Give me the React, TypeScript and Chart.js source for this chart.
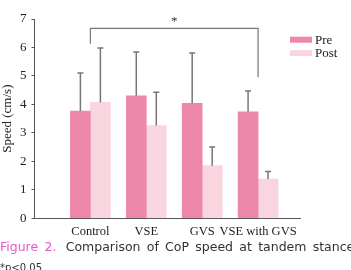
import { useEffect, useRef } from 'react';
import { Chart, registerables } from 'chart.js';

Chart.register(...registerables);

// Groups on the x axis
const groups = ['Control', 'VSE', 'GVS', 'VSE with GVS'];

// CoP speed (cm/s): mean and standard deviation per group
const preMeans = [3.77, 4.3, 4.04, 3.74];
const preSD = [1.33, 1.54, 1.77, 0.73];
const postMeans = [4.07, 3.26, 1.85, 1.38];
const postSD = [1.91, 1.17, 0.65, 0.26];

// Significance bracket between Control and VSE with GVS
const sigFrom = 0;
const sigTo = 3;
const sigLevel = 6.67;
const sigLegEnds = [6.13, 4.95];

const PRE_COLOR = '#EE88AA';
const POST_COLOR = '#F9D5E0';
const LINE_COLOR = '#777777';
const SERIF = '"Liberation Serif", "Times New Roman", serif';

const CANVAS_H = 245;
const PLOT_BOTTOM = 218.3;

const overlay = {
  id: 'errorBarsAndBracket',
  afterDatasetsDraw(chart: any) {
    const { ctx } = chart;
    const x = chart.scales.x;
    const y = chart.scales.y;
    const means = [preMeans, postMeans];
    const sds = [preSD, postSD];

    ctx.save();
    ctx.strokeStyle = LINE_COLOR;
    ctx.lineWidth = 1.5;
    chart.data.datasets.forEach((_ds: any, di: number) => {
      const meta = chart.getDatasetMeta(di);
      meta.data.forEach((bar: any, i: number) => {
        const base = y.getPixelForValue(means[di][i]);
        const top = y.getPixelForValue(means[di][i] + sds[di][i]);
        ctx.beginPath();
        ctx.moveTo(bar.x, base);
        ctx.lineTo(bar.x, top);
        ctx.moveTo(bar.x - 3, top);
        ctx.lineTo(bar.x + 3, top);
        ctx.stroke();
      });
    });

    // bracket
    const x1 = x.getPixelForValue(sigFrom + 1);
    const x2 = x.getPixelForValue(sigTo + 1);
    const yl = y.getPixelForValue(sigLevel);
    ctx.lineWidth = 1.2;
    ctx.beginPath();
    ctx.moveTo(x1, y.getPixelForValue(sigLegEnds[0]));
    ctx.lineTo(x1, yl);
    ctx.lineTo(x2, yl);
    ctx.lineTo(x2, y.getPixelForValue(sigLegEnds[1]));
    ctx.stroke();

    ctx.fillStyle = '#333';
    ctx.font = `13px ${SERIF}`;
    ctx.textAlign = 'center';
    ctx.textBaseline = 'alphabetic';
    ctx.fillText('*', (x1 + x2) / 2, yl - 3);

    // legend
    const items = [
      { label: 'Pre', color: PRE_COLOR },
      { label: 'Post', color: POST_COLOR },
    ];
    ctx.textAlign = 'left';
    items.forEach((it, k) => {
      const top = 36.7 + k * 13.4;
      ctx.fillStyle = it.color;
      ctx.fillRect(290, top, 22, 6);
      ctx.fillStyle = '#222';
      ctx.fillText(it.label, 315, top + 7);
    });
    ctx.restore();
  },
};

export default function App() {
  const canvasRef = useRef<HTMLCanvasElement | null>(null);

  useEffect(() => {
    document.body.style.margin = '0';
    const canvas = canvasRef.current;
    if (!canvas) return;
    const chart = new Chart(canvas, {
      type: 'bar',
      data: {
        datasets: [
          {
            label: 'Pre',
            data: preMeans.map((v, i) => ({ x: i + 1, y: v })),
            backgroundColor: PRE_COLOR,
            barThickness: 20,
          },
          {
            label: 'Post',
            data: postMeans.map((v, i) => ({ x: i + 1, y: v })),
            backgroundColor: POST_COLOR,
            barThickness: 20,
          },
        ],
      } as any,
      options: {
        animation: false,
        responsive: false,
        devicePixelRatio: 1,
        layout: { padding: { top: 19, right: 51, left: 0, bottom: 0 } },
        plugins: { legend: { display: false }, tooltip: { enabled: false } },
        scales: {
          x: {
            type: 'linear',
            min: 0,
            max: 4.75,
            offset: false,
            grid: { display: false, drawTicks: false, tickLength: 0 },
            border: { display: true, color: '#555', width: 1 },
            afterBuildTicks: (s: any) => {
              s.ticks = groups.map((_, i) => ({ value: i + 1 }));
            },
            ticks: {
              autoSkip: false,
              maxRotation: 0,
              padding: 6,
              color: '#222',
              font: { family: SERIF, size: 12.5 },
              callback: (v: any) => groups[Number(v) - 1] ?? '',
            },
            afterFit: (s: any) => {
              s.height = CANVAS_H - PLOT_BOTTOM;
            },
          },
          y: {
            min: 0,
            max: 7,
            ticks: {
              stepSize: 1,
              padding: 5,
              color: '#222',
              font: { family: SERIF, size: 13 },
            },
            grid: { drawOnChartArea: false, drawTicks: true, tickLength: 3, color: '#555' },
            border: { display: true, color: '#555', width: 1 },
            title: {
              display: true,
              text: 'Speed (cm/s)',
              color: '#222',
              padding: 0,
              font: { family: SERIF, size: 13 },
            },
            afterFit: (s: any) => {
              s.width = 34.5;
            },
          },
        },
      } as any,
      plugins: [overlay],
    });
    return () => chart.destroy();
  }, []);

  return (
    <div style={{ position: 'relative', width: 351, height: 270, overflow: 'hidden', background: '#fff' }}>
      <canvas ref={canvasRef} width={351} height={CANVAS_H} style={{ position: 'absolute', left: 0, top: 0 }} />
      <div
        style={{
          position: 'absolute',
          left: 0,
          top: 240,
          whiteSpace: 'nowrap',
          fontFamily: '"DejaVu Sans", sans-serif',
          fontSize: 12.5,
          lineHeight: '14px',
          color: '#333',
          wordSpacing: 2.3,
        }}
      >
        <span style={{ color: '#E957C8', marginRight: 3 }}>Figure 2.</span> Comparison of CoP speed at tandem stance
      </div>
      <div
        style={{
          position: 'absolute',
          left: 0,
          top: 261.5,
          whiteSpace: 'nowrap',
          fontFamily: '"DejaVu Sans", sans-serif',
          fontSize: 10,
          lineHeight: '12px',
          color: '#333',
        }}
      >
        *p&lt;0.05
      </div>
    </div>
  );
}
